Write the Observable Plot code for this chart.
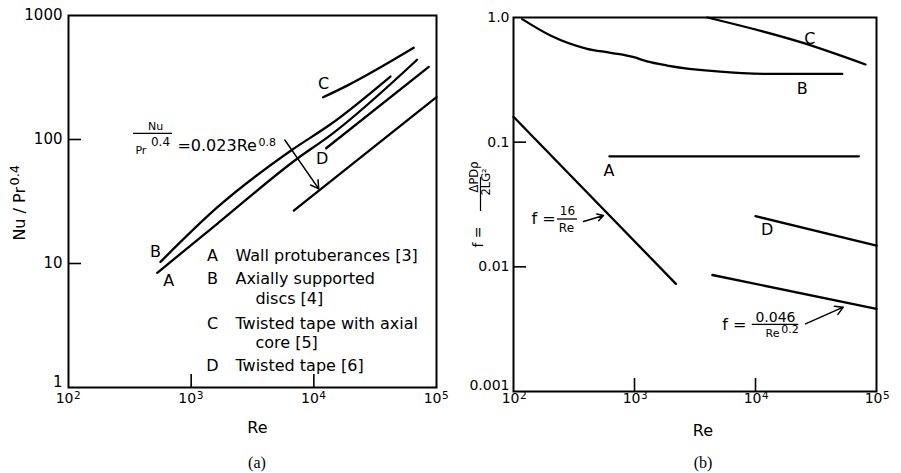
<!DOCTYPE html>
<html><head><meta charset="utf-8">
<script src="https://cdn.jsdelivr.net/npm/d3@7"></script>
<script src="https://cdn.jsdelivr.net/npm/@observablehq/plot@0.6"></script>
<style>
body{margin:0;background:#fff;}
#wrap{position:relative;width:901px;height:473px;overflow:hidden;background:#fff;}
#wrap svg{position:absolute;top:0;}
.cap{position:absolute;top:453px;font-family:"Liberation Serif","DejaVu Serif",serif;font-size:16px;line-height:20px;transform:translateX(-50%);color:#000;}
</style></head><body>
<div id="wrap"></div>
<script>
// ---------- Panel (a): Nu/Pr^0.4 vs Re ----------
const reA_a = [528, 1630, 7310, 13600, 69500];
const nuA_a = [8.4, 20.9, 70, 108, 440];
const reB_a = [562, 1630, 6700, 13600, 42100];
const nuB_a = [10.3, 28.3, 83, 132, 322];
const reC_a = [11900, 18700, 65200];
const nuC_a = [219, 272, 549];
const reD_a = [12600, 86500];
const nuD_a = [85, 385];
const reDB = [6860, 100000];
const nuDB = [26.7, 220];

// ---------- Panel (b): f vs Re ----------
const reLam = [100, 2200];
const fLam = [0.16, 0.0073];
const reTurb = [4400, 100000];
const fTurb = [0.0086, 0.0046];
const reA_b = [620, 71500];
const fA_b = [0.077, 0.077];
const reB_b = [118, 202, 406, 634, 986, 1274, 1862, 4820, 12500, 52100];
const fB_b = [0.97, 0.717, 0.561, 0.521, 0.481, 0.444, 0.412, 0.369, 0.353, 0.353];
const reC_b = [4000, 23600, 81100];
const fC_b = [1.0, 0.634, 0.42];
const reD_b = [10000, 100000];
const fD_b = [0.0255, 0.0148];

// ---------- ticks & labels ----------
const xTicks = [1e2, 1e3, 1e4, 1e5];
const xExp = ["2", "3", "4", "5"];
const xInner = [1e3, 1e4];
const yTicksA = [1, 10, 100, 1000];
const yLabelsA = ["1", "10", "100", "1000"];
const yInnerA = [10, 100];
const yTicksB = [0.001, 0.01, 0.1, 1];
const yLabelsB = ["0.001", "0.01", "0.1", "1.0"];
const yInnerB = [0.01, 0.1];
const legendKeys = ["A", "B", "C", "D"];
const legendLines = ["Wall protuberances [3]", "Axially supported", "discs [4]", "Twisted tape with axial", "core [5]", "Twisted tape [6]"];

const K = "#000";
const line = (xs, ys, o = {}) => Plot.line(xs.map((x, i) => ({x, y: ys[i]})), {x: "x", y: "y", stroke: K, strokeWidth: 2.3, curve: "monotone-x", ...o});
const txt = (x, y, t, o = {}) => Plot.text([{x, y, t}], {x: "x", y: "y", text: "t", fill: K, fontSize: 16, ...o});
const ytxt = (y, t, o = {}) => Plot.text([{y, t}], {y: "y", text: "t", fill: K, frameAnchor: "left", ...o});
const bar = (y, x1, x2) => Plot.ruleY([{y, x1, x2}], {y: "y", x1: "x1", x2: "x2", stroke: K, strokeWidth: 1.3});
const arrow = (x1, y1, x2, y2) => Plot.arrow([{x1, y1, x2, y2}], {x1: "x1", y1: "y1", x2: "x2", y2: "y2", stroke: K, strokeWidth: 1.5, headLength: 9});

function axes(frameW, frameH, yInner, yTicks, yLabels, xdy, xedy, xdx, ydx, yfs, lowDy) {
  return [
    Plot.frame({stroke: K, strokeWidth: 2}),
    Plot.ruleX(xInner, {stroke: K, strokeWidth: 1.6, insetTop: frameH - 13}),
    Plot.ruleY(yInner, {stroke: K, strokeWidth: 1.6, insetRight: frameW - 13}),
    Plot.text(xTicks, {x: d => d, text: () => "10", frameAnchor: "bottom", textAnchor: "end", dx: xdx, dy: xdy, fontSize: 14, fill: K}),
    Plot.text(xTicks, {x: d => d, text: (d, i) => xExp[i], frameAnchor: "bottom", textAnchor: "start", dx: xdx + 0.5, dy: xedy, fontSize: 10.5, fill: K}),
    Plot.text(yTicks.slice(1), {y: d => d, text: (d, i) => yLabels[i + 1], frameAnchor: "left", textAnchor: "end", dx: ydx, fontSize: yfs, fill: K}),
    Plot.text(yTicks.slice(0, 1), {y: d => d, text: () => yLabels[0], frameAnchor: "left", textAnchor: "end", dx: ydx, dy: lowDy, fontSize: yfs, fill: K})
  ];
}

const H = 445;
const plotA = Plot.plot({
  width: 450, height: H,
  marginLeft: 68, marginRight: 14, marginTop: 15, marginBottom: H - 387,
  x: {type: "log", domain: [1e2, 1e5], axis: null},
  y: {type: "log", domain: [1, 1e3], axis: null},
  style: {fontFamily: "'DejaVu Sans', sans-serif", background: "#fff", color: "#000", overflow: "visible"},
  marks: [
    ...axes(368, 372, yInnerA, yTicksA, yLabelsA, 15, 11, 5, -6, 15, -5),
    line(reA_a, nuA_a),
    line(reB_a, nuB_a),
    line(reC_a, nuC_a),
    line(reD_a, nuD_a),
    line(reDB, nuDB),
    txt(12000, 283, "C"),
    txt(11700, 70, "D"),
    txt(512, 12.3, "B"),
    txt(656, 7.3, "A"),
    // equation label
    txt(512, 127, "Nu", {fontSize: 11}),
    bar(112, 339, 705),
    txt(351, 82, "Pr", {fontSize: 11, textAnchor: "start"}),
    txt(470, 95, "0.4", {fontSize: 12, textAnchor: "start"}),
    txt(773, 89.5, "=0.023Re", {textAnchor: "start"}),
    txt(3540, 94.6, "0.8", {fontSize: 11, textAnchor: "start"}),
    arrow(5800, 99, 10965, 40),
    // legend
    Plot.text(legendKeys, {x: () => 1493, y: (d, i) => [11.6, 7.57, 3.28, 1.5][i], text: d => d, fontSize: 16, fill: K}),
    Plot.text(legendLines, {x: (d, i) => [2296, 2296, 3342, 2296, 3342, 2296][i], y: (d, i) => [11.6, 7.57, 5.22, 3.28, 2.31, 1.5][i], text: d => d, textAnchor: "start", fontSize: 16, fill: K}),
    // axis titles
    Plot.text(["Re"], {x: () => 3470, frameAnchor: "bottom", dy: 45, text: d => d, fontSize: 16, fill: K}),
    ytxt(15.3, "Nu / Pr", {rotate: -90, textAnchor: "start", dx: -49, fontSize: 16}),
    ytxt(42.5, "0.4", {rotate: -90, textAnchor: "start", dx: -54, fontSize: 13})
  ]
});

const plotB = Plot.plot({
  width: 451, height: H,
  marginLeft: 63, marginRight: 25, marginTop: 17, marginBottom: H - 391,
  x: {type: "log", domain: [1e2, 1e5], axis: null},
  y: {type: "log", domain: [1e-3, 1], axis: null},
  style: {fontFamily: "'DejaVu Sans', sans-serif", background: "#fff", color: "#000", overflow: "visible"},
  marks: [
    ...axes(363, 374, yInnerB, yTicksB, yLabelsB, 11.5, 7.5, 6, -4, 14, -6),
    line(reLam, fLam),
    line(reTurb, fTurb),
    line(reA_b, fA_b),
    line(reB_b, fB_b),
    line(reC_b, fC_b),
    line(reD_b, fD_b),
    txt(28100, 0.675, "C"),
    txt(24300, 0.268, "B"),
    txt(614, 0.0593, "A"),
    txt(12500, 0.0199, "D"),
    // f = 16/Re
    txt(141, 0.0243, "f =", {textAnchor: "start"}),
    txt(279, 0.0278, "16", {fontSize: 12}),
    bar(0.0242, 231, 338),
    txt(274, 0.0203, "Re", {fontSize: 12}),
    arrow(379, 0.0231, 555, 0.0258),
    // f = 0.046/Re^0.2
    txt(5310, 0.00345, "f =", {textAnchor: "start"}),
    txt(14630, 0.00394, "0.046", {fontSize: 14}),
    bar(0.00345, 9400, 22800),
    txt(12100, 0.00292, "Re", {fontSize: 11, textAnchor: "start"}),
    txt(16300, 0.00312, "0.2", {fontSize: 11, textAnchor: "start"}),
    arrow(25900, 0.00349, 53100, 0.00475),
    // axis titles
    Plot.text(["Re"], {x: () => 3680, frameAnchor: "bottom", dy: 44, text: d => d, fontSize: 16, fill: K}),
    ytxt(0.01429, "f =", {rotate: -90, textAnchor: "start", dx: -35, fontSize: 14}),
    ytxt(0.0395, "ΔPDρ", {rotate: -90, dx: -39, fontSize: 11.5}),
    ytxt(0.0373, "2LG²", {rotate: -90, dx: -27, fontSize: 11.5}),
    Plot.ruleX([{x: 100, y1: 0.0521, y2: 0.0278}], {x: "x", y1: "y1", y2: "y2", dx: -33, stroke: K, strokeWidth: 1.2})
  ]
});

const wrap = document.getElementById("wrap");
plotA.style.left = "0px";
plotB.style.left = "450px";
wrap.appendChild(plotA);
wrap.appendChild(plotB);
for (const [t, cx] of [["(a)", 257], ["(b)", 703]]) {
  const d = document.createElement("div");
  d.className = "cap";
  d.style.left = cx + "px";
  d.textContent = t;
  wrap.appendChild(d);
}
</script>
</body></html>
